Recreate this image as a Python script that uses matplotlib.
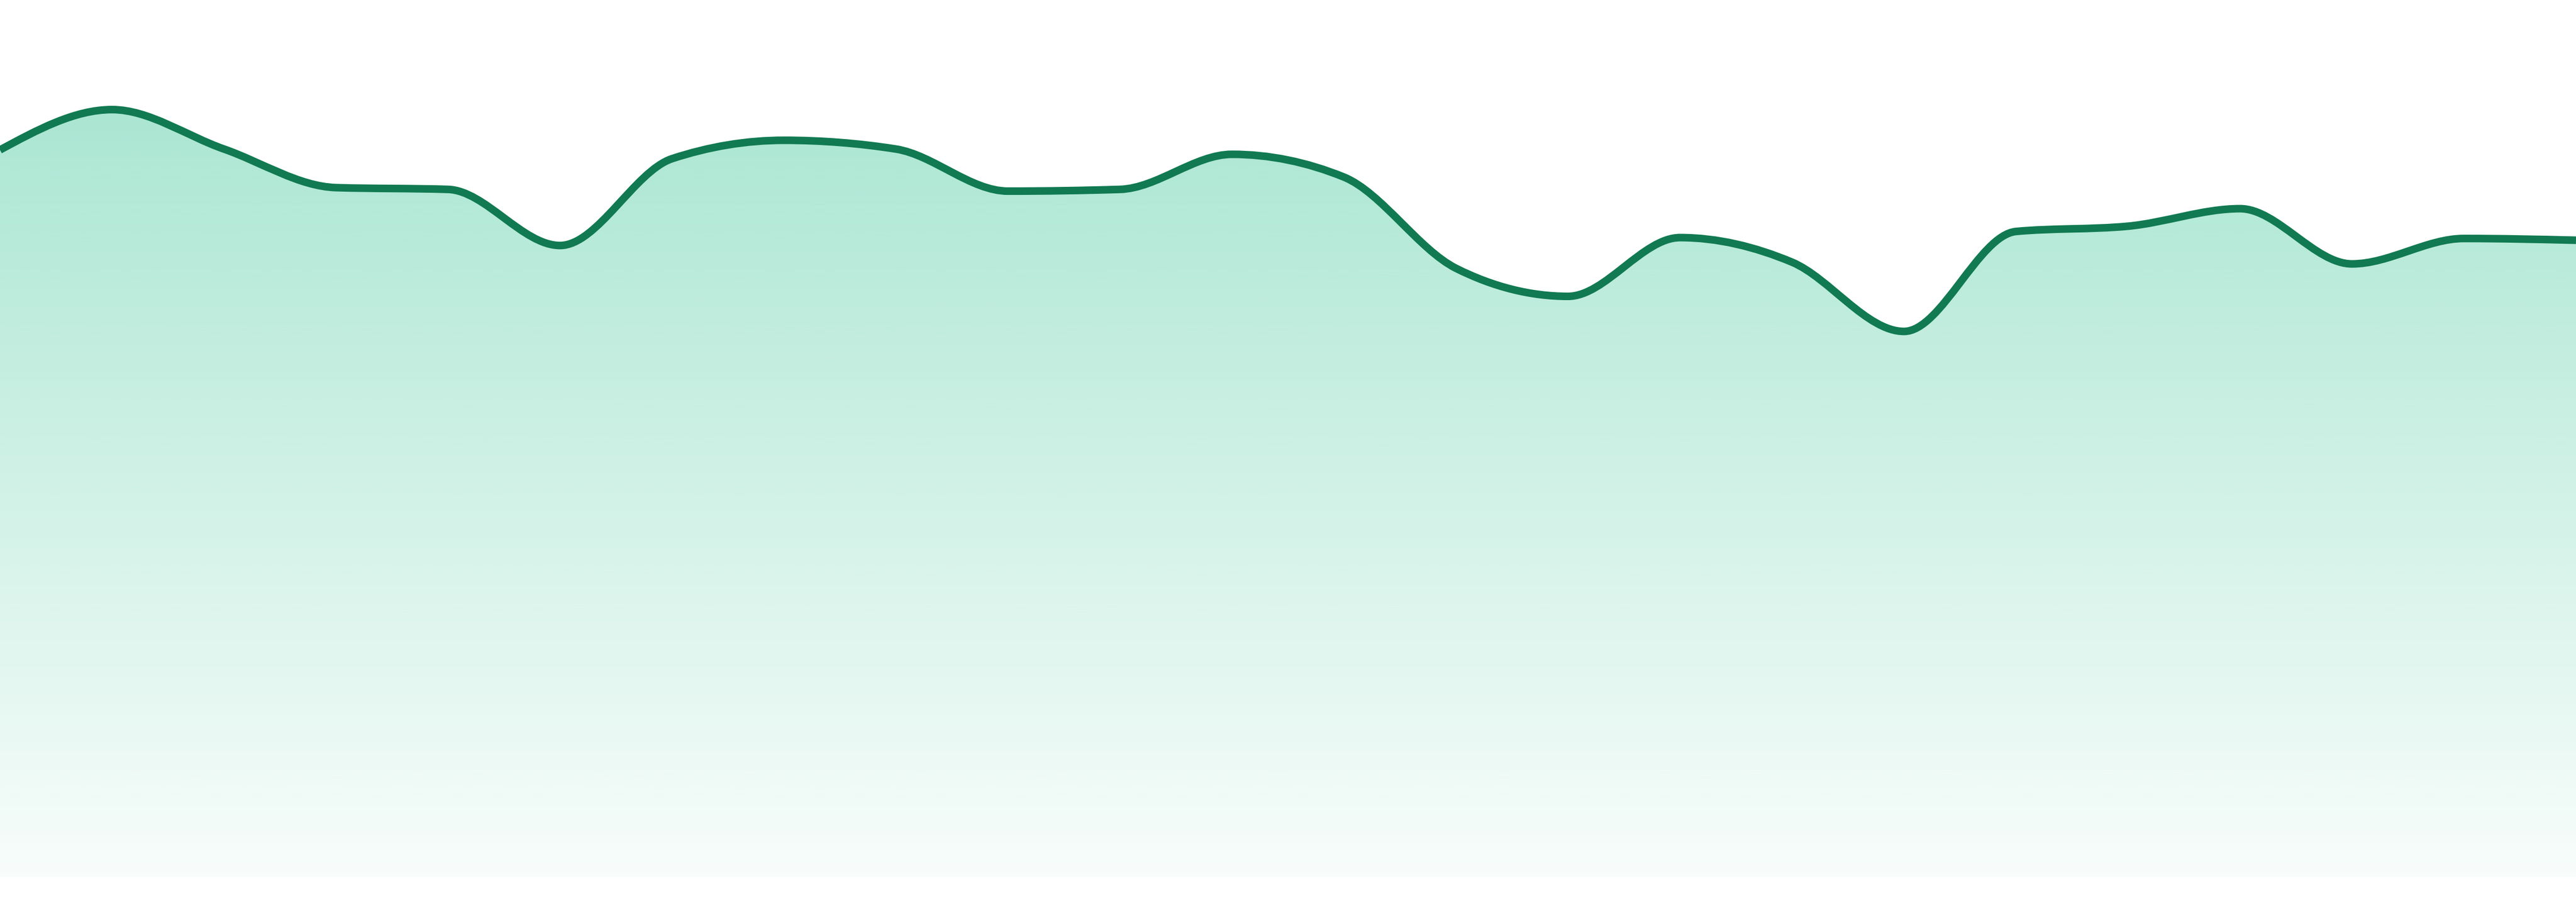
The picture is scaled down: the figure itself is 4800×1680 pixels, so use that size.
import matplotlib
matplotlib.use("Agg")
import matplotlib.pyplot as plt
import numpy as np
from matplotlib.path import Path
from matplotlib.patches import PathPatch

# one value per evenly spaced sample
positions = list(range(24))
values = [82.9, 87.5, 83.0, 78.6, 78.4, 72.0, 81.9, 84.0, 83.0, 78.2, 78.4, 82.4,
          79.8, 69.4, 66.2, 72.9, 70.1, 62.2, 73.6, 74.2, 76.2, 69.9, 72.8, 72.6]

LINE_COLOR = "#117a52"
FILL_RGB = (16 / 255, 185 / 255, 129 / 255)


def monotone_slopes(x, y):
    """Tangents as in d3.curveMonotoneX (Steffen)."""
    x = np.asarray(x, dtype=float)
    y = np.asarray(y, dtype=float)
    n = len(x)
    h = np.diff(x)
    s = np.diff(y) / h
    t = np.zeros(n)
    for i in range(1, n - 1):
        p = (s[i - 1] * h[i] + s[i] * h[i - 1]) / (h[i - 1] + h[i])
        t[i] = (np.sign(s[i - 1]) + np.sign(s[i])) * min(abs(s[i - 1]), abs(s[i]), 0.5 * abs(p))
    t[0] = (3 * s[0] - t[1]) / 2
    t[-1] = (3 * s[-1] - t[-2]) / 2
    return t


def curve_vertices(x, y):
    t = monotone_slopes(x, y)
    verts = [(x[0], y[0])]
    codes = [Path.MOVETO]
    for i in range(len(x) - 1):
        dx = (x[i + 1] - x[i]) / 3
        verts += [(x[i] + dx, y[i] + dx * t[i]),
                  (x[i + 1] - dx, y[i + 1] - dx * t[i + 1]),
                  (x[i + 1], y[i + 1])]
        codes += [Path.CURVE4] * 3
    return verts, codes


fig = plt.figure(figsize=(16, 5.6), dpi=300)
ax = fig.add_axes([0, 47 / 1680, 1, 1633 / 1680])
ax.set_xlim(positions[0], positions[-1])
ax.set_ylim(0, 100)
ax.axis("off")

verts, codes = curve_vertices(positions, values)

# area: curve then down to the baseline and back
area_verts = verts + [(positions[-1], 0), (positions[0], 0), verts[0]]
area_codes = codes + [Path.LINETO, Path.LINETO, Path.CLOSEPOLY]
area = PathPatch(Path(area_verts, area_codes), facecolor="none", edgecolor="none")
ax.add_patch(area)

alpha = np.linspace(0.40, 0.03, 256)[:, None]
gradient = np.zeros((256, 1, 4))
gradient[..., :3] = FILL_RGB
gradient[..., 3] = alpha
img = ax.imshow(gradient, extent=[positions[0], positions[-1], 0, 100],
                aspect="auto", origin="upper", interpolation="bilinear", zorder=1)
img.set_clip_path(area)

line = PathPatch(Path(verts, codes), facecolor="none", edgecolor=LINE_COLOR,
                 linewidth=3.4, zorder=2)
ax.add_patch(line)

fig.savefig("out.png", dpi=300, facecolor="white")
plt.close(fig)
